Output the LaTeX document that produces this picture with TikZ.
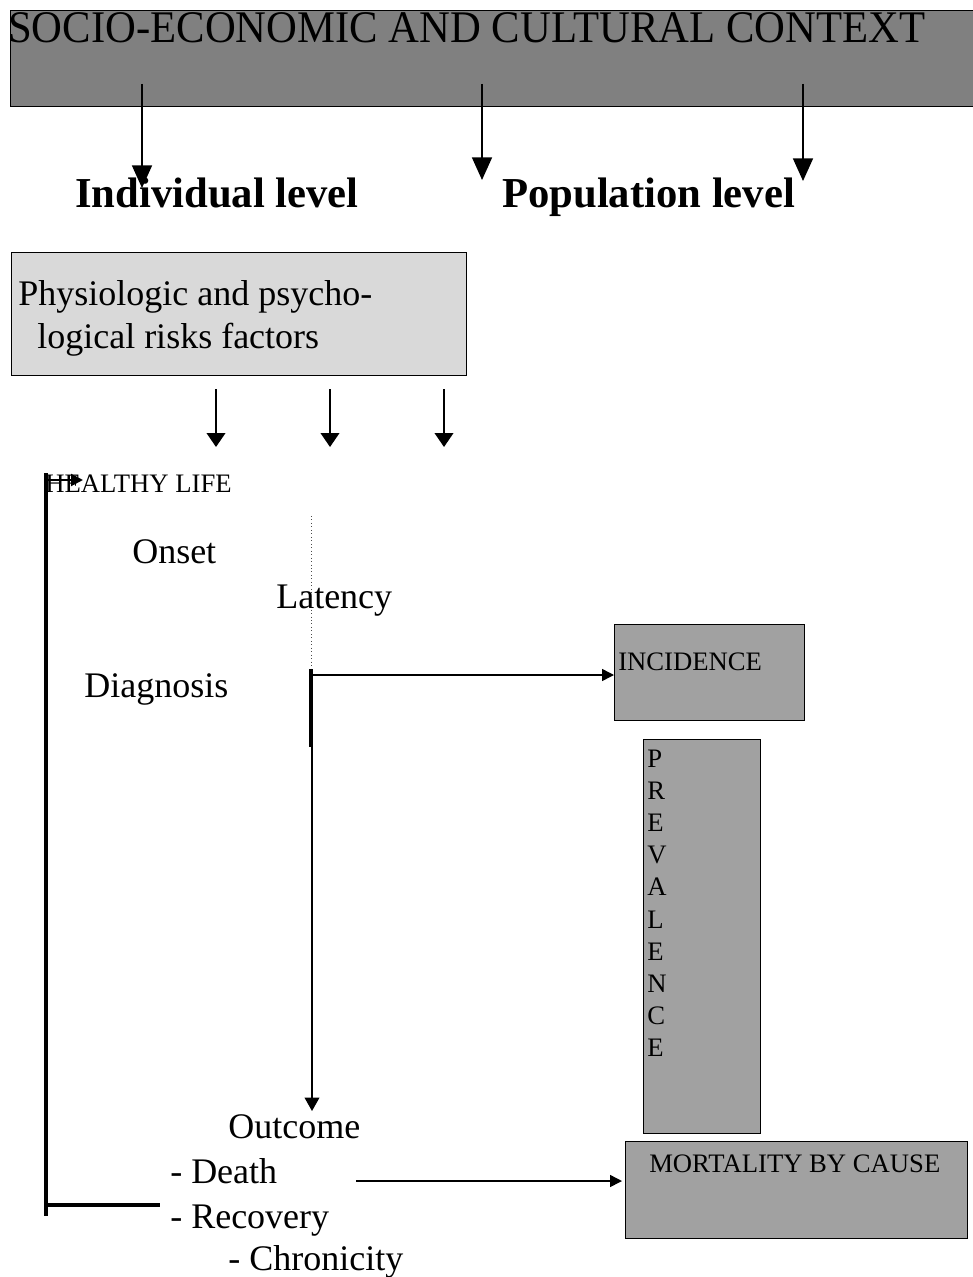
\documentclass[tikz,border=0pt]{standalone}
\usepackage{fontspec}
\setmainfont{Liberation Serif}
\usetikzlibrary{arrows.meta}
\begin{document}
\begin{tikzpicture}[x=0.75pt,y=-0.75pt,
  thinln/.style={line width=1.2pt},
  thickln/.style={line width=2.3pt},
  toparrow/.style={line width=1.3pt,-{Triangle[length=17pt,width=15pt]}},
  midarrow/.style={line width=1.4pt,-{Triangle[length=10.5pt,width=14pt]}},
  smallarrow/.style={line width=1.1pt,-{Triangle[length=9pt,width=9pt]}},
  box/.style={draw=black,line width=1.1pt,inner sep=0pt,anchor=north west},
  txt/.style={inner sep=0pt,anchor=base west},
  big/.style={font=\fontsize{27}{32}\selectfont},
  small/.style={font=\fontsize{20}{24}\selectfont},
  head/.style={font=\fontsize{32}{38}\selectfont},
  headb/.style={font=\fontsize{32}{38}\selectfont\bfseries}]
\useasboundingbox (0,0) rectangle (972,1277);
% boxes
\node[box,fill=black!50,minimum width=727.5pt,minimum height=72pt] (ctx) at (10,10) {};
\node[box,fill=black!15,minimum width=341.25pt,minimum height=92.25pt] (phys) at (11,252) {};
\node[box,fill=black!37,minimum width=142.5pt,minimum height=72pt] (inc) at (614,624) {};
\node[box,fill=black!37,minimum width=87.75pt,minimum height=295.5pt] (prev) at (643,739) {};
\node[box,fill=black!37,minimum width=256.5pt,minimum height=72.75pt] (mort) at (625,1141) {};
% texts
\node[txt,head,yscale=1.06] (ctxt) at (8,43) {SOCIO-ECONOMIC AND CULTURAL CONTEXT};
\node[txt,headb] (ind) at (75,207) {Individual level};
\node[txt,headb] (pop) at (502,207) {Population level};
\node[txt,big] (ph1) at (18,305) {Physiologic and psycho-};
\node[txt,big] (ph2) at (37,348) {logical risks factors};
\node[txt,small] (hl) at (45,492) {HEALTHY LIFE};
\node[txt,big] (onset) at (132,563) {Onset};
\node[txt,big] (lat) at (276,608) {Latency};
\node[txt,big] (diag) at (84,697) {Diagnosis};
\node[txt,small] (inct) at (618,670) {INCIDENCE};
\foreach \l [count=\i] in {P,R,E,V,A,L,E,N,C,E}
  \node[txt,small] (pv\i) at (647,{767+(\i-1)*32.2}) {\l};
\node[txt,small] (mortt) at (649,1172) {MORTALITY BY CAUSE};
\node[txt,big] (out) at (228,1138) {Outcome};
\node[txt,big] (death) at (170,1183) {- Death};
\node[txt,big] (rec) at (170,1228) {- Recovery};
\node[txt,big] (chr) at (228,1270) {- Chronicity};
% coordinates
\coordinate (a1s) at (142,84); \coordinate (a1e) at (142,188);
\coordinate (a2s) at (482,84); \coordinate (a2e) at (482,180);
\coordinate (a3s) at (803,84); \coordinate (a3e) at (803,181);
\coordinate (b1s) at (216,389); \coordinate (b1e) at (216,447);
\coordinate (b2s) at (330,389); \coordinate (b2e) at (330,447);
\coordinate (b3s) at (444,389); \coordinate (b3e) at (444,447);
\coordinate (vtop) at (46,473); \coordinate (vbot) at (46,1216);
\coordinate (hls) at (46,480); \coordinate (hle) at (83,480);
\coordinate (recl) at (46,1205); \coordinate (recr) at (160,1205);
\coordinate (dots) at (311,516); \coordinate (dote) at (311,669);
\coordinate (thke) at (311,747);
\coordinate (incs) at (311,675); \coordinate (ince) at (614,675);
\coordinate (outs) at (312,740); \coordinate (oute) at (312,1111);
\coordinate (dths) at (356,1181); \coordinate (dthe) at (622,1181);
% connectors
\draw[toparrow] (a1s) -- (a1e);
\draw[toparrow] (a2s) -- (a2e);
\draw[toparrow] (a3s) -- (a3e);
\draw[midarrow] (b1s) -- (b1e);
\draw[midarrow] (b2s) -- (b2e);
\draw[midarrow] (b3s) -- (b3e);
\draw[thickln] (vtop) -- (vbot);
\draw[thickln] (recl) -- (recr);
\draw[smallarrow,line width=1.5pt] (hls) -- (hle);
\draw[line width=0.6pt,dotted,black!70] (dots) -- (dote);
\draw[thickln] (dote) -- (thke);
\draw[smallarrow] (incs) -- (ince);
\draw[line width=1.1pt,-{Triangle[length=10pt,width=11pt]}] (outs) -- (oute);
\draw[smallarrow] (dths) -- (dthe);
\end{tikzpicture}
\end{document}
